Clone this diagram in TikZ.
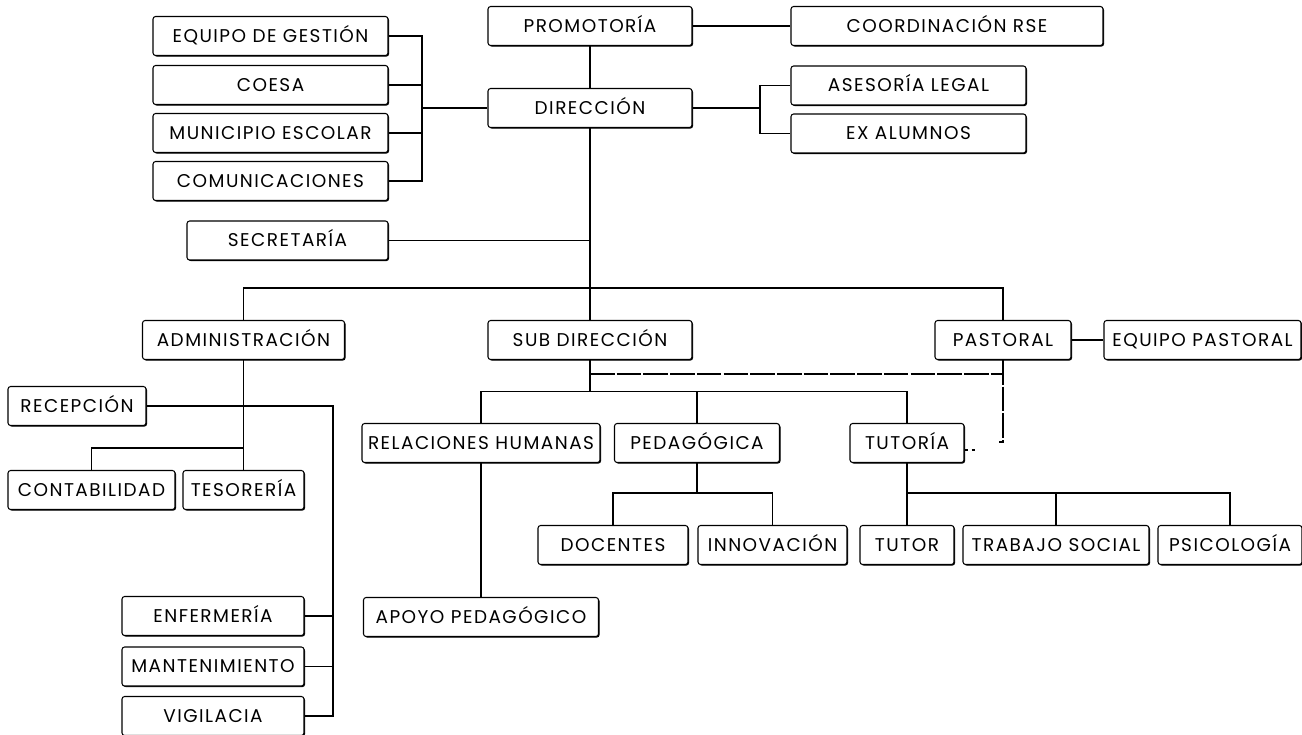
\documentclass[tikz,border=0pt]{standalone}
\usepackage{fontspec}
\setmainfont{Poppins}[LetterSpace=8]
\usetikzlibrary{shadows,calc}

\begin{document}
\begin{tikzpicture}[
  caja/.style={draw, line width=0.6pt, rounded corners=1.5pt, fill=white,
    minimum height=0.78cm, inner sep=0pt, text height=0.7em, text depth=0pt,
    font=\fontsize{10.5}{12}\selectfont,
    drop shadow={shadow xshift=0.6pt, shadow yshift=-0.6pt, fill=black, opacity=1}},
  linea/.style={line width=0.6pt},
  punteada/.style={line width=0.6pt, dash pattern=on 14pt off 1.2pt}
]
\useasboundingbox (0,0) rectangle (26.04,-14.7);
\node[caja, minimum width=4.7cm] (eqg) at (5.41,-0.72) {EQUIPO DE GESTIÓN};
\node[caja, minimum width=4.7cm] (coesa) at (5.41,-1.70) {COESA};
\node[caja, minimum width=4.7cm] (mun) at (5.41,-2.66) {MUNICIPIO ESCOLAR};
\node[caja, minimum width=4.7cm] (com) at (5.41,-3.62) {COMUNICACIONES};
\node[caja, minimum width=4.08cm] (prom) at (11.8,-0.52) {PROMOTORÍA};
\node[caja, minimum width=6.24cm] (rse) at (18.94,-0.52) {COORDINACIÓN RSE};
\node[caja, minimum width=4.08cm] (dir) at (11.8,-2.16) {DIRECCIÓN};
\node[caja, minimum width=4.7cm] (ase) at (18.17,-1.71) {ASESORÍA LEGAL};
\node[caja, minimum width=4.7cm] (exa) at (18.17,-2.67) {EX ALUMNOS};
\node[caja, minimum width=4.02cm] (sec) at (5.75,-4.81) {SECRETARÍA};
\node[caja, minimum width=4.04cm] (adm) at (4.87,-6.8) {ADMINISTRACIÓN};
\node[caja, minimum width=4.08cm] (sub) at (11.8,-6.8) {SUB DIRECCIÓN};
\node[caja, minimum width=2.72cm] (past) at (20.06,-6.8) {PASTORAL};
\node[caja, minimum width=3.94cm] (eqp) at (24.05,-6.8) {EQUIPO PASTORAL};
\node[caja, minimum width=2.76cm] (rec) at (1.54,-8.12) {RECEPCIÓN};
\node[caja, minimum width=3.34cm] (cont) at (1.83,-9.8) {CONTABILIDAD};
\node[caja, minimum width=2.42cm] (teso) at (4.87,-9.8) {TESORERÍA};
\node[caja, minimum width=3.64cm] (enf) at (4.26,-12.32) {ENFERMERÍA};
\node[caja, minimum width=3.64cm] (man) at (4.26,-13.33) {MANTENIMIENTO};
\node[caja, minimum width=3.64cm] (vig) at (4.26,-14.32) {VIGILACIA};
\node[caja, minimum width=4.76cm] (rrhh) at (9.62,-8.86) {RELACIONES HUMANAS};
\node[caja, minimum width=3.3cm] (ped) at (13.94,-8.86) {PEDAGÓGICA};
\node[caja, minimum width=2.28cm] (tut) at (18.14,-8.86) {TUTORÍA};
\node[caja, minimum width=3.0cm] (doc) at (12.26,-10.9) {DOCENTES};
\node[caja, minimum width=2.98cm] (inn) at (15.45,-10.9) {INNOVACIÓN};
\node[caja, minimum width=4.7cm] (apoyo) at (9.62,-12.34) {APOYO PEDAGÓGICO};
\node[caja, minimum width=1.88cm] (tutor) at (18.14,-10.9) {TUTOR};
\node[caja, minimum width=3.72cm] (ts) at (21.12,-10.9) {TRABAJO SOCIAL};
\node[caja, minimum width=2.88cm] (psi) at (24.6,-10.9) {PSICOLOGÍA};
\coordinate (bizq) at (8.44,0);
\coordinate (bder) at (15.2,0);
\coordinate (badm) at (6.66,0);
\coordinate (ramal) at (11.8,-5.76);
\coordinate (radm) at (4.87,-8.96);
\coordinate (rsub) at (11.8,-7.83);
\coordinate (rped) at (13.94,-9.86);
\coordinate (rtut) at (18.14,-9.86);
\coordinate (pasbajo) at (20.06,-8.84);
\draw[linea] (eqg.east) -- (eqg.east -| bizq) -- (com.east -| bizq) -- (com.east);
\draw[linea] (coesa.east) -- (coesa.east -| bizq);
\draw[linea] (mun.east) -- (mun.east -| bizq);
\draw[linea] (bizq |- dir.west) -- (dir.west);
\draw[linea] (prom.east) -- (rse.west);
\draw[linea] (prom.south) -- (dir.north);
\draw[linea] (dir.east) -- (dir.east -| bder);
\draw[linea] (ase.west) -- (ase.west -| bder) -- (exa.west -| bder) -- (exa.west);
\draw[linea] (sec.east) -- (sec.east -| dir.south);
\draw[linea] (dir.south) -- (sub.north);
\draw[linea] (adm.north) -- (adm.north |- ramal) -- (past.north |- ramal) -- (past.north);
\draw[linea] (past.east) -- (eqp.west);
\draw[linea] (adm.south) -- (teso.north);
\draw[linea] (cont.north) |- (radm);
\draw[linea] (rec.east) -- (rec.east -| badm) -- (vig.east -| badm) -- (vig.east);
\draw[linea] (enf.east) -- (enf.east -| badm);
\draw[linea] (man.east) -- (man.east -| badm);
\draw[linea] (sub.south) -- (rsub);
\draw[linea] (rrhh.north) -- (rrhh.north |- rsub) -- (tut.north |- rsub) -- (tut.north);
\draw[linea] (ped.north) -- (ped.north |- rsub);
\draw[linea] (ped.south) -- (rped);
\draw[linea] (doc.north) -- (doc.north |- rped) -- (inn.north |- rped) -- (inn.north);
\draw[linea] (rrhh.south) -- (apoyo.north);
\draw[linea] (tut.south) -- (tutor.north);
\draw[linea] (rtut) -- (psi.north |- rtut) -- (psi.north);
\draw[linea] (ts.north) -- (ts.north |- rtut);
\draw[punteada] (sub.south |- 0,-7.48) -- (past.south |- 0,-7.48);
\draw[punteada] (past.south) -- (pasbajo) -- ++(-0.08,0);
\draw[linea, dash pattern=on 2pt off 2pt] ($(tut.east)+(0,-0.14)$) -- ++(0.28,0);
\end{tikzpicture}
\end{document}
